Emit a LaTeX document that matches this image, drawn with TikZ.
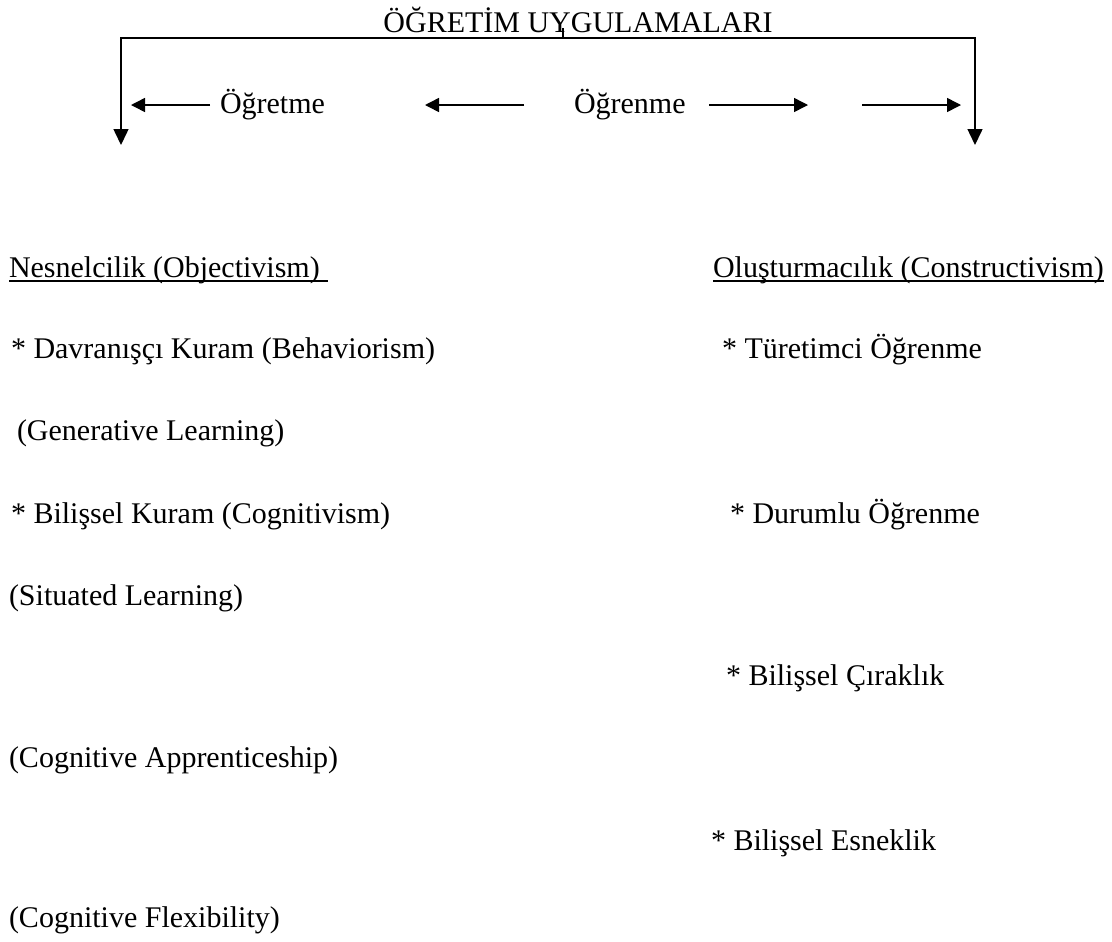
\documentclass[tikz,border=0pt]{standalone}
\usepackage{fontspec}
\setmainfont{Liberation Serif}
\usetikzlibrary{arrows.meta,calc}
\tikzset{
  txt/.style={anchor=base west,inner sep=0pt,outer sep=0pt,font=\fontsize{12pt}{14pt}\selectfont},
  ttl/.style={anchor=base,inner sep=0pt,outer sep=0pt,font=\fontsize{12pt}{14pt}\selectfont},
  ln/.style={line width=0.6pt,black},
  harrow/.style={ln,-{Triangle[length=5.6pt,width=5.6pt]}},
  varrow/.style={ln,{Triangle[length=6.4pt,width=6pt]}-{Triangle[length=6.4pt,width=6pt]}},
  uline/.style={line width=0.5pt,black}
}
\begin{document}
\begin{tikzpicture}[x=0.4pt,y=-0.4pt]
\useasboundingbox (0,0) rectangle (1112,941);
% title and bracket
\node[ttl] (title) at (578,32) {ÖĞRETİM UYGULAMALARI};
\coordinate (bl) at (121,145);
\coordinate (tr) at (975,38);
\coordinate (br) at (975,145);
\coordinate (tick) at (563,28);
\draw[varrow] (bl) |- (tr) -- (br);
\draw[ln] (tick) -- (tick |- tr);
% middle row
\node[txt] (ogretme) at (220,113) {Öğretme};
\node[txt] (ogrenme) at (574,113) {Öğrenme};
\coordinate (a1s) at (210,105); \coordinate (a1e) at (131,105);
\coordinate (a2s) at (524,105); \coordinate (a2e) at (425,105);
\coordinate (a3s) at (709,105); \coordinate (a3e) at (808,105);
\coordinate (a4s) at (862,105); \coordinate (a4e) at (961,105);
\draw[harrow] (a1s) -- (a1e);
\draw[harrow] (a2s) -- (a2e);
\draw[harrow] (a3s) -- (a3e);
\draw[harrow] (a4s) -- (a4e);
% left column
\node[txt] (nes) at (9,277) {Nesnelcilik (Objectivism)};
\draw[uline] ($(nes.base west)+(0,4)$) -- ($(nes.base east)+(8,4)$);
\node[txt] (l1) at (11,358) {* Davranışçı Kuram (Behaviorism)};
\node[txt] (l2) at (17,440) {(Generative Learning)};
\node[txt] (l3) at (11,523) {* Bilişsel Kuram (Cognitivism)};
\node[txt] (l4) at (9,605) {(Situated Learning)};
\node[txt] (l5) at (9,767) {(Cognitive Apprenticeship)};
\node[txt] (l6) at (9,927) {(Cognitive Flexibility)};
% right column
\node[txt] (olu) at (713,277) {Oluşturmacılık (Constructivism)};
\draw[uline] ($(olu.base west)+(0,4)$) -- ($(olu.base east)+(0,4)$);
\node[txt] (r1) at (722,358) {* Türetimci Öğrenme};
\node[txt] (r2) at (730,523) {* Durumlu Öğrenme};
\node[txt] (r3) at (726,685) {* Bilişsel Çıraklık};
\node[txt] (r4) at (711,850) {* Bilişsel Esneklik};
\end{tikzpicture}
\end{document}
